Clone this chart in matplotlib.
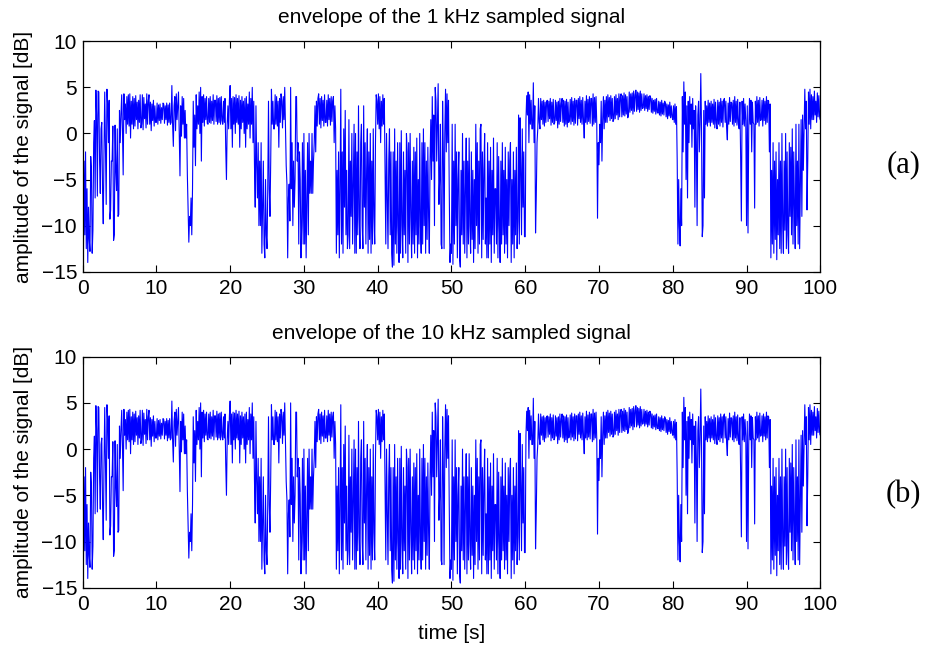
import numpy as np
import matplotlib
matplotlib.use("Agg")
import matplotlib.pyplot as plt

# Envelope amplitude in dB, one value every 0.1 s (one row per second),
# grouped by 10-second block
seg_00 = [-5.0, -13.8, -3.0, -11.0, -2.0, -12.5, -6.0, -14.0, -8.0, -11.5,
          -12.8, -2.5, -4.0, -13.0, -10.5, -1.0, 1.4, -7.0, 4.7, 2.0,
          -6.8, 4.6, 4.5, -3.0, -6.5, 0.5, 1.2, -6.0, -9.8, -2.0,
          4.5, -1.5, -7.7, 4.8, 3.0, -1.0, 3.6, -9.3, -8.3, -3.0,
          -3.0, 0.8, -11.6, -11.0, 0.9, -4.0, -6.2, 0.5, -9.0, -8.8,
          2.5, -1.0, 2.0, 4.2, 0.5, -4.5, 4.3, 1.5, 3.2, 0.0,
          4.0, 1.0, 4.2, 0.8, 4.3, -0.5, 3.5, 1.0, 4.0, 0.5,
          3.8, 0.8, 4.1, 1.5, 3.4, 0.5, 3.6, 1.2, 4.2, 0.6,
          1.0, 4.2, 0.4, 3.9, 1.6, 3.2, 0.6, 4.3, 1.0, 3.5,
          4.2, 1.0, 3.4, 0.3, 3.2, 1.4, 3.6, 0.8, 3.0, 1.2]
seg_10 = [1.2, 3.3, 1.0, 3.1, 1.4, 3.2, 1.1, 2.8, 1.5, 3.3,
          3.2, 1.1, 3.0, 1.5, 3.3, 0.9, 3.1, 1.2, 3.3, 1.0,
          1.2, 5.2, 1.0, -1.4, 3.0, 4.0, 0.3, 4.3, 1.5, 3.0,
          4.5, 0.0, -4.6, 3.0, -0.3, 4.0, 1.0, 3.8, -0.5, 2.5,
          -0.5, 1.0, -4.5, -8.0, -11.8, -9.0, -10.0, -7.0, -11.0, -6.0,
          3.5, -1.5, 2.0, -3.5, 4.2, 0.5, 3.0, 1.0, 4.5, 0.0,
          5.0, -3.0, 4.0, 1.2, 4.2, 0.8, 3.8, 1.5, 4.0, 1.1,
          1.0, 3.8, 1.2, 4.0, 1.1, 3.5, 1.4, 4.2, 1.0, 3.6,
          3.6, 1.3, 4.1, 1.0, 3.8, 1.2, 3.9, 1.0, 4.0, 1.4,
          1.0, 3.5, 1.2, 3.8, -1.5, -5.0, 1.0, 3.0, 0.5, 3.6]
seg_20 = [5.2, 0.5, 3.8, -1.5, 4.0, 1.0, 3.9, 0.0, 4.2, 1.2,
          3.8, 1.0, 4.1, -1.5, 3.6, 0.5, 4.0, 1.2, 3.5, 0.0,
          3.8, -1.5, 4.0, 0.5, 3.2, 1.0, 4.5, -0.5, 3.8, 1.0,
          5.0, -1.0, 3.5, -3.5, -8.0, 3.0, -3.5, -7.0, -1.0, -10.0,
          -3.0, -10.0, -1.0, -13.0, -8.0, -3.0, -12.0, -13.5, -5.0, -11.0,
          -12.5, -6.0, 3.5, -6.0, -9.0, -3.0, 4.8, 1.0, 3.5, 0.5,
          0.5, 4.2, 1.0, 4.0, 0.8, 3.5, -1.5, 3.8, 1.2, 4.3,
          3.5, 0.6, 4.0, 1.5, 5.0, 0.5, -3.5, -5.5, -13.5, -7.0,
          -5.5, -9.5, 5.0, -6.0, -1.0, -10.0, -3.0, -8.0, -5.0, 4.0,
          4.0, -3.0, -1.0, -12.0, -2.0, -5.0, -13.5, -10.0, -1.0, -12.0]
seg_30 = [0.0, -12.0, -4.0, -13.5, -7.0, -1.0, -11.0, 0.0, -6.5, -3.0,
          -6.5, 0.0, -6.5, -3.0, -1.0, 3.0, -2.0, 3.5, 0.8, 3.8,
          4.3, 1.0, 3.8, 0.6, 4.0, 1.4, 3.6, 0.8, 4.2, 1.2,
          1.2, 3.6, 0.8, 4.2, 1.5, 3.8, 0.9, 4.0, 1.3, 3.5,
          4.0, -1.0, 3.0, 0.5, -13.0, -4.0, -11.0, -2.0, -13.5, -6.0,
          4.8, -12.0, -2.0, -13.0, 0.5, -8.0, 2.5, -11.0, -4.0, -12.5,
          -11.0, 1.5, -12.5, -3.0, -9.0, 0.0, -12.0, -5.0, 1.0, -13.0,
          0.0, -13.0, -2.0, -11.0, 3.0, -9.0, -12.5, -1.0, 1.0, -10.0,
          -12.5, 3.0, -8.0, -1.0, -12.0, -4.0, 0.5, -13.0, -2.0, -11.5,
          0.0, -13.0, -3.0, -12.0, 0.5, -9.0, -12.0, -1.0, 4.2, 3.5]
seg_40 = [1.0, 4.3, 0.5, 4.0, -1.0, 3.5, 0.8, 4.2, 1.0, 3.8,
          -4.0, -12.0, 0.0, -7.0, -12.5, -3.0, 0.5, -11.0, -2.0, -13.0,
          -14.5, -2.0, -14.3, 0.5, -12.0, -3.0, -13.0, -1.0, -10.0, -14.0,
          -1.0, -13.0, 0.3, -10.0, -13.5, -2.0, -11.0, -4.0, -13.0, 0.0,
          -2.0, -14.0, -1.0, -12.0, 0.0, -9.0, -13.5, -3.0, -12.0, -1.5,
          -13.0, -2.0, -11.0, -0.5, -13.5, -5.0, -12.0, 0.0, -10.0, -13.0,
          -1.0, -12.0, 0.5, -10.0, -1.0, -13.0, -3.0, -11.5, -1.5, -9.0,
          -13.0, -3.0, 1.5, -5.0, 4.0, -3.0, 2.0, -10.0, 5.0, 3.5,
          -3.0, 1.5, 5.4, -7.7, -5.0, 1.0, -12.0, -12.5, 3.5, -2.0,
          -12.5, 0.0, 4.8, -2.0, 4.3, -1.0, 3.6, -6.0, -14.0, -12.0]
seg_50 = [-13.0, 1.0, -14.2, -3.0, -12.0, 1.0, -10.0, -2.0, -13.5, -5.0,
          -2.0, -13.5, -14.5, -4.0, -11.0, 0.0, -12.0, -3.0, -13.0, -6.0,
          -0.5, -13.5, -3.0, -12.0, -0.5, -10.0, -13.0, -2.0, -11.5, -4.0,
          -14.0, -5.0, -12.5, 1.0, -10.0, -1.0, -13.0, -3.0, -12.0, 0.5,
          1.0, -13.5, -2.0, -11.5, -4.0, 0.0, -12.0, -7.0, -13.5, -1.0,
          -13.5, -3.0, -12.0, -1.5, -14.0, -4.0, -11.0, -0.5, -13.0, -6.0,
          -6.0, -12.0, -1.0, -13.5, -2.5, -10.0, -14.0, -3.0, -12.0, -1.0,
          -11.0, -4.0, -13.0, -1.5, -12.0, -5.0, -13.5, -2.0, -10.0, -3.0,
          -1.0, -14.0, -5.0, -12.0, -2.0, -13.5, -4.0, -11.0, -1.5, -12.5,
          -9.5, 2.0, -12.0, 1.7, -4.0, -11.0, 0.5, -8.0, -2.0, -11.2]
seg_60 = [-11.2, 1.5, 4.1, 2.0, 4.5, -1.0, 4.2, 1.0, 3.6, 0.5,
          0.5, 5.5, -1.0, 3.0, -10.8, -6.8, -1.0, 0.5, 3.8, 1.2,
          0.5, 3.8, 1.5, 3.5, 1.0, 3.6, 0.8, 3.4, 1.2, 3.5,
          3.6, 1.3, 3.5, 1.6, 3.8, 0.9, 3.4, 1.2, 3.7, 1.0,
          1.2, 3.6, 1.4, 3.4, 0.6, 3.5, 1.0, 3.8, 1.3, 3.3,
          3.8, 1.2, 3.6, 0.8, 3.5, 1.0, 3.7, 0.7, 3.4, 1.2,
          1.5, 3.7, 1.0, 3.9, 1.3, 3.5, 0.9, 3.8, 1.1, 3.6,
          3.6, 0.9, 3.8, 1.6, 4.0, 1.2, 3.6, 1.0, 3.9, 1.4,
          -0.5, 3.5, 1.2, 4.1, 1.0, 3.7, 1.3, 4.0, 1.1, 3.8,
          3.8, 0.8, 4.3, 1.0, 3.9, 1.2, 4.0, 1.0, -9.2, -1.0]
seg_70 = [-3.4, 1.0, -1.0, 3.5, -3.0, 1.5, 4.0, 0.5, 3.6, 1.2,
          4.0, 1.2, 4.2, 1.8, 3.9, 1.4, 4.1, 1.6, 3.8, 1.3,
          1.5, 4.0, 1.6, 4.2, 2.0, 3.8, 1.5, 4.3, 1.8, 4.0,
          4.3, 1.8, 4.1, 2.0, 4.4, 1.9, 4.2, 2.1, 4.0, 1.7,
          2.0, 4.5, 2.3, 4.3, 2.5, 4.4, 2.1, 4.6, 2.4, 4.2,
          4.7, 2.4, 4.5, 2.6, 4.4, 2.3, 4.6, 2.5, 4.3, 2.7,
          2.8, 4.3, 2.5, 4.1, 2.7, 4.2, 2.4, 4.0, 2.6, 4.1,
          3.9, 2.3, 3.8, 2.2, 3.6, 2.4, 3.7, 2.1, 3.8, 2.3,
          2.2, 3.5, 2.0, 3.4, 1.9, 3.6, 2.1, 3.3, 2.0, 3.5,
          3.3, 1.8, 3.2, 1.6, 3.1, 1.9, 3.4, 1.7, 3.0, 1.8]
seg_80 = [1.5, 3.0, 1.2, 3.2, 1.0, 2.9, -2.9, -12.0, -5.0, -10.1,
          -12.2, -6.0, -10.0, 4.0, -2.0, 5.6, 1.0, 4.5, -5.0, 3.0,
          -7.0, 3.5, -1.0, 4.0, 1.0, 3.2, -1.5, 3.8, 0.5, 2.5,
          -8.0, 3.0, -1.0, -10.0, 2.0, 3.5, -2.0, 1.0, 6.5, 0.5,
          -11.2, -10.0, 2.5, -7.0, 3.5, 1.0, 3.0, 0.8, 3.6, 1.2,
          3.3, 0.8, 3.5, 1.2, 3.2, 1.0, 3.7, 0.6, 3.4, 1.1,
          0.5, 3.6, 1.0, 3.4, 0.8, 3.8, 1.2, 3.5, 0.7, 3.6,
          3.8, 1.2, 3.5, 0.6, -0.7, 3.3, 1.0, 3.9, 1.3, 3.4,
          3.3, 1.0, 3.6, 0.8, 4.0, 1.2, 3.5, 0.9, 3.7, 1.1,
          0.5, 3.4, -2.5, -9.5, 3.5, 1.0, 3.8, 0.8, 3.2, 1.4]
seg_90 = [-10.0, 3.0, -10.8, 0.5, 3.8, 1.0, 3.6, -2.0, 3.4, 1.2,
          1.0, -8.1, 3.5, 1.0, 4.0, 1.2, 3.6, 0.8, 3.9, 1.4,
          1.5, 3.6, 0.8, 3.8, 1.4, 3.5, 1.0, 4.0, 1.2, 3.6,
          3.5, -2.0, 3.2, -13.5, -4.0, -12.0, -1.0, -13.0, -3.0, -11.5,
          -2.0, -13.7, -5.0, -11.0, -1.0, -12.5, -3.0, -13.0, 0.0, -10.0,
          -13.0, -3.0, -10.5, 0.0, -12.5, -2.0, -11.0, -13.0, -1.0, -9.0,
          -1.5, -11.0, 0.5, -12.0, -2.0, -8.0, -12.5, 1.0, -10.0, -3.0,
          -12.0, 1.0, -12.5, -5.0, 1.5, -9.0, 2.0, -4.0, 0.5, 4.8,
          0.5, 3.5, -8.3, -3.0, 4.5, 1.0, 4.8, 0.5, 4.2, 1.5,
          4.0, 1.5, 4.6, 2.0, 3.5, 1.2, 4.4, 1.8, 4.1, 2.0,
          1.5, 4.2, 2.0, 3.8, 2.5, 4.0, 1.8, 3.6, 2.2, 3.9]

env_1k = seg_00 + seg_10 + seg_20 + seg_30 + seg_40 + seg_50 + seg_60 + seg_70 + seg_80 + seg_90
env_10k = list(env_1k)
dt = 0.1

titles = ["envelope of the 1 kHz sampled signal", "envelope of the 10 kHz sampled signal"]
tags = ["(a)", "(b)"]
x_ticks = [0, 10, 20, 30, 40, 50, 60, 70, 80, 90, 100]
y_ticks = [-15, -10, -5, 0, 5, 10]

plt.rcParams["font.family"] = ["Liberation Sans", "DejaVu Sans"]

W, H = 926, 649
fig = plt.figure(figsize=(W / 100, H / 100), dpi=100)

# axes boxes in pixels: left, right, top, bottom
boxes = [(82.6, 820.3, 41.3, 271.7), (82.6, 820.3, 356.7, 587.7)]
tag_y = [165, 495]

for k, (series, box) in enumerate(zip([env_1k, env_10k], boxes)):
    l, r, t, b = box
    ax = fig.add_axes([l / W, 1 - b / H, (r - l) / W, (b - t) / H])
    y = np.asarray(series)
    x = np.arange(len(y)) * dt
    ax.plot(x, y, color=(0, 0, 1), lw=0.8)
    ax.set_xlim(0, 100)
    ax.set_ylim(-15, 10)
    ax.set_xticks(x_ticks)
    ax.set_yticks(y_ticks)
    ax.tick_params(direction="in", length=5, width=0.8, top=True, right=True,
                   labelsize=15, colors="black")
    ax.tick_params(axis="x", pad=5)
    ax.tick_params(axis="y", pad=4)
    for s in ax.spines.values():
        s.set_linewidth(0.9)
    ax.set_title(titles[k], fontsize=15, pad=13)
    ax.set_ylabel("amplitude of the signal [dB]", fontsize=15)
    ax.yaxis.set_label_coords(-0.067, 0.5)
    if k == 1:
        ax.set_xlabel("time [s]", fontsize=15, va="top")
        ax.xaxis.set_label_coords(0.5, -0.155)
    fig.text(903.5 / W, 1 - tag_y[k] / H, tags[k], fontsize=22,
             family=["Liberation Serif", "DejaVu Serif"], ha="center", va="center")

fig.savefig("out.png", dpi=100)
